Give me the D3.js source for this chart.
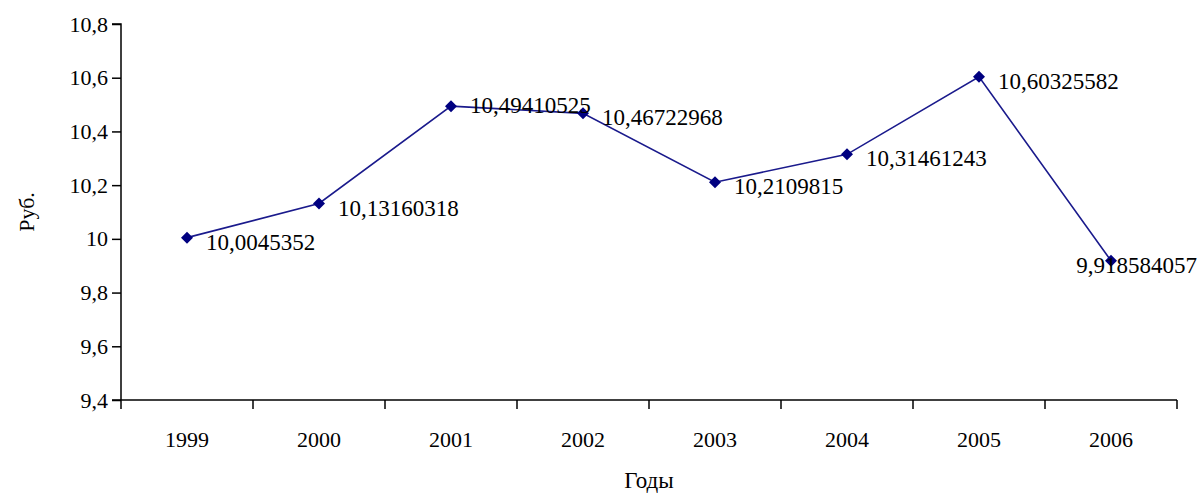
<!DOCTYPE html>
<html>
<head>
<meta charset="utf-8">
<script src="https://cdn.jsdelivr.net/npm/d3@7"></script>
<style>
  html, body { margin: 0; padding: 0; background: #fff; }
  svg text { font-family: "Liberation Serif", "Times New Roman", serif; fill: #000; }
</style>
</head>
<body>
<svg id="chart" width="1198" height="496"></svg>
<script>
// Average price per year, rubles
const years = ["1999", "2000", "2001", "2002", "2003", "2004", "2005", "2006"];
const prices = [10.0045352, 10.13160318, 10.49410525, 10.46722968, 10.2109815, 10.31461243, 10.60325582, 9.918584057];
const priceLabels = ["10,0045352", "10,13160318", "10,49410525", "10,46722968", "10,2109815", "10,31461243", "10,60325582", "9,918584057"];
const yTicks = [9.4, 9.6, 9.8, 10, 10.2, 10.4, 10.6, 10.8];
const yTickLabels = ["9,4", "9,6", "9,8", "10", "10,2", "10,4", "10,6", "10,8"];

const svg = d3.select("#chart");
const plotLeft = 121, plotRight = 1177, plotTop = 24, plotBottom = 400;

const x = d3.scaleBand().domain(years).range([plotLeft, plotRight]);
const y = d3.scaleLinear().domain([9.4, 10.8]).range([plotBottom, plotTop]);

// Y axis
const yAxis = d3.axisLeft(y)
  .tickValues(yTicks)
  .tickFormat((d, i) => yTickLabels[i])
  .tickSize(9)
  .tickPadding(4);
const gy = svg.append("g").attr("transform", `translate(${plotLeft},0)`).call(yAxis);
gy.select(".domain").attr("stroke", "#000").attr("stroke-width", 1.5).attr("d", `M-9,${plotTop}H0V${plotBottom}`);
gy.selectAll(".tick line").attr("stroke", "#000").attr("stroke-width", 1.5);
gy.selectAll(".tick text").attr("font-size", 22).attr("font-family", "Liberation Serif");

// X axis with ticks at band boundaries
const gx = svg.append("g").attr("transform", `translate(0,${plotBottom})`);
gx.append("line").attr("x1", plotLeft - 9).attr("x2", plotRight).attr("y1", 0).attr("y2", 0)
  .attr("stroke", "#000").attr("stroke-width", 1.5);
const boundaries = years.map(d => x(d)).concat([x(years[years.length - 1]) + x.bandwidth()]);
gx.selectAll("line.tk").data(boundaries).enter().append("line").attr("class", "tk")
  .attr("x1", d => d).attr("x2", d => d).attr("y1", 0).attr("y2", 9)
  .attr("stroke", "#000").attr("stroke-width", 1.5);
gx.selectAll("text.yr").data(years).enter().append("text").attr("class", "yr")
  .attr("x", d => x(d) + x.bandwidth() / 2).attr("y", 47)
  .attr("text-anchor", "middle").attr("font-size", 22).text(d => d);

// Axis titles
svg.append("text").attr("x", (plotLeft + plotRight) / 2).attr("y", 488)
  .attr("text-anchor", "middle").attr("font-size", 23).text("Годы");
svg.append("text").attr("transform", `translate(34,212) rotate(-90)`)
  .attr("text-anchor", "middle").attr("font-size", 22).text("Руб.");

// Series line
const cx = d => x(d) + x.bandwidth() / 2;
const line = d3.line().x((d, i) => cx(years[i])).y(d => y(d));
svg.append("path").datum(prices).attr("d", line)
  .attr("fill", "none").attr("stroke", "#1a1a8c").attr("stroke-width", 1.6);

// Diamond markers
svg.selectAll("path.mk").data(prices).enter().append("path").attr("class", "mk")
  .attr("d", "M0,-6L6,0L0,6L-6,0Z")
  .attr("transform", (d, i) => `translate(${cx(years[i])},${y(d)})`)
  .attr("fill", "#000080");

// Value labels to the right of each point
svg.selectAll("text.val").data(prices).enter().append("text").attr("class", "val")
  .attr("x", (d, i) => i === prices.length - 1 ? 1197 : cx(years[i]) + 19)
  .attr("y", (d, i) => y(d) + (i === 2 ? 7 : 12))
  .attr("text-anchor", (d, i) => i === prices.length - 1 ? "end" : "start")
  .attr("font-size", 23)
  .text((d, i) => priceLabels[i]);
</script>
</body>
</html>
